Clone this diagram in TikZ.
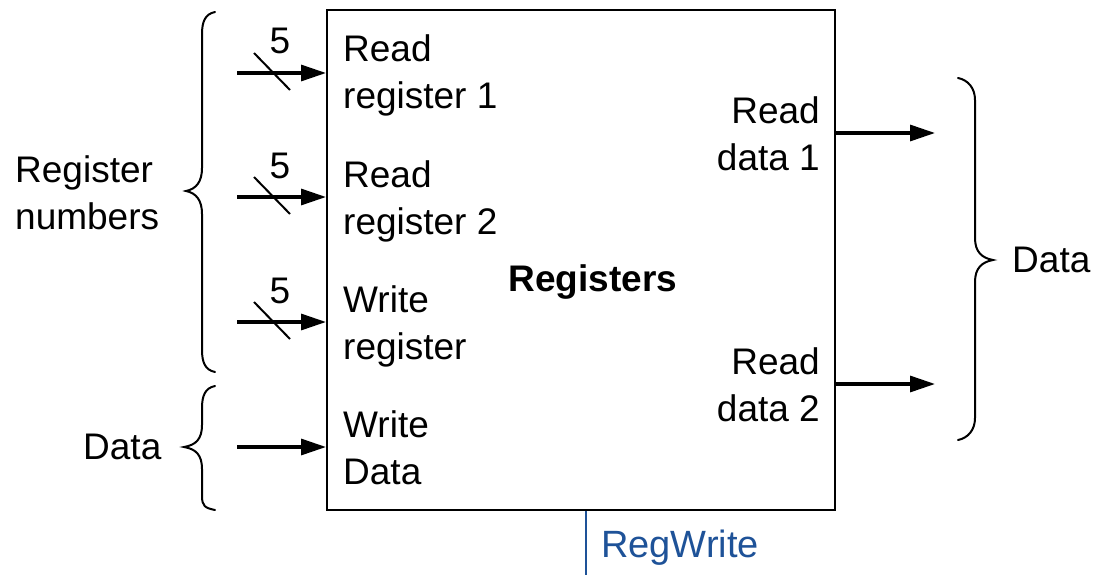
\documentclass[tikz,border=0pt]{standalone}
\usepackage{fontspec}
\setmainfont{Liberation Sans}
\usetikzlibrary{arrows.meta}
\definecolor{regblue}{RGB}{30,82,152}
\begin{document}
\begin{tikzpicture}[x=1pt,y=-1pt,
  lbl/.style={inner sep=0pt,font=\fontsize{37}{47}\selectfont},
  wire/.style={line width=3.2pt,-{Triangle[length=25pt,width=16pt]}},
  slash/.style={line width=2pt},
  brc/.style={line width=2pt,line cap=round}]
\useasboundingbox (0,0) rectangle (1094,575);
\node[draw,line width=2pt,minimum width=508pt,minimum height=500pt,inner sep=0pt] (reg) at (581,260) {};
\node[lbl,font=\fontsize{37}{47}\selectfont\bfseries,anchor=base] (title) at (593,291) {Registers};
% inputs
\foreach \n/\yy in {1/73,2/197,3/322,4/447}{
  \coordinate (in\n) at (237,\yy);
  \draw[wire] (in\n) -- (in\n -| reg.west);
}
\foreach \n/\yy in {1/73,2/197,3/322}{
  \coordinate (sa\n) at (254,\yy-20);
  \coordinate (sb\n) at (290,\yy+17);
  \draw[slash] (sa\n) -- (sb\n);
  \node[lbl,anchor=base] (five\n) at (280,\yy-19) {5};
}
% multi-line nodes: base anchor = baseline of last line
\node[lbl,anchor=base west,align=left] (rr1) at (343,109) {Read\\register 1};
\node[lbl,anchor=base west,align=left] (rr2) at (343,234) {Read\\register 2};
\node[lbl,anchor=base west,align=left] (wr) at (343,359) {Write\\register};
\node[lbl,anchor=base west,align=left] (wd) at (343,484) {Write\\Data};
\node[lbl,anchor=base east,align=right] (rd1) at (820,170) {Read\\data 1};
\node[lbl,anchor=base east,align=right] (rd2) at (820,421) {Read\\data 2};
% outputs
\coordinate (out1) at (935,133);
\coordinate (out2) at (935,384);
\draw[wire] (out1 -| reg.east) -- (out1);
\draw[wire] (out2 -| reg.east) -- (out2);
% braces
\draw[brc] (215,12) .. controls (205,14) and (202,22) .. (202,34)
  -- (202,168) .. controls (202,182) and (196,189) .. (186,191)
  .. controls (196,193) and (202,200) .. (202,214)
  -- (202,350) .. controls (202,362) and (205,370) .. (215,372);
\draw[brc] (215,386) .. controls (205,388) and (202,396) .. (202,408)
  -- (202,425) .. controls (202,439) and (196,445) .. (184,447)
  .. controls (196,449) and (202,455) .. (202,469)
  -- (202,496) .. controls (202,506) and (205,508) .. (215,510);
\draw[brc] (958,78) .. controls (968,80) and (975,88) .. (975,100)
  -- (975,238) .. controls (975,252) and (982,258) .. (993,260)
  .. controls (982,262) and (975,268) .. (975,282)
  -- (975,418) .. controls (975,430) and (968,438) .. (958,440);
\node[lbl,anchor=base west,align=left] (regnum) at (15,229) {Register\\numbers};
\node[lbl,anchor=base west] (dataL) at (83,459) {Data};
\node[lbl,anchor=base west] (dataR) at (1012,272) {Data};
% RegWrite
\coordinate (rwend) at (586,575);
\draw[regblue,line width=1.5pt] (rwend |- reg.south) -- (rwend);
\node[lbl,anchor=base west,text=regblue,font=\fontsize{38}{47}\selectfont] (rw) at (601,557) {RegWrite};
\end{tikzpicture}
\end{document}
